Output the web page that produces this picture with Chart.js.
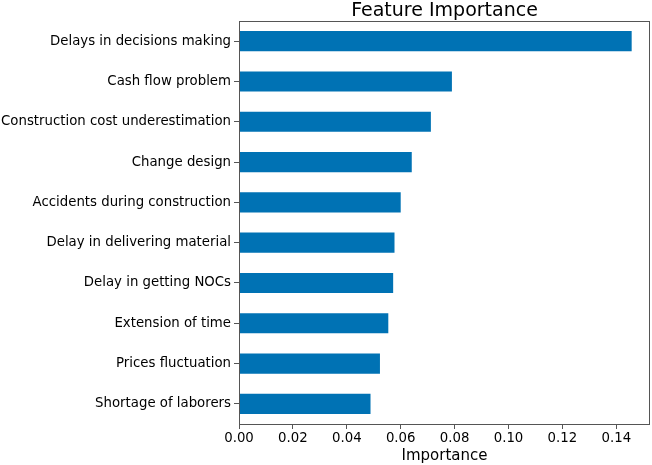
<!DOCTYPE html>
<html>
<head>
<meta charset="utf-8">
<script src="https://cdn.jsdelivr.net/npm/chart.js@4.4.0/dist/chart.umd.min.js"></script>
<style>
html,body{margin:0;padding:0;background:#fff;}
#wrap{width:652px;height:465px;position:relative;}
</style>
</head>
<body>
<div id="wrap"><canvas id="c" width="652" height="465"></canvas></div>
<script>
const categories = [
  "Delays in decisions making",
  "Cash flow problem",
  "Construction cost underestimation",
  "Change design",
  "Accidents during construction",
  "Delay in delivering material",
  "Delay in getting NOCs",
  "Extension of time",
  "Prices fluctuation",
  "Shortage of laborers"
];
const importance = [0.1457, 0.0790, 0.0712, 0.0641, 0.0600, 0.0577, 0.0572, 0.0554, 0.0523, 0.0488];
const xTicks = [0.00, 0.02, 0.04, 0.06, 0.08, 0.10, 0.12, 0.14];

const FONT = "'DejaVu Sans', sans-serif";

const frame = {
  id: 'frame',
  afterDatasetsDraw(chart) {
    const a = chart.chartArea, ctx = chart.ctx;
    ctx.save();
    ctx.strokeStyle = '#555';
    ctx.lineWidth = 1;
    ctx.strokeRect(Math.round(a.left) + 0.5, Math.round(a.top) + 0.5, Math.round(a.right - a.left) - 1, Math.round(a.bottom - a.top));
    ctx.restore();
  }
};

new Chart(document.getElementById('c'), {
  type: 'bar',
  data: {
    labels: categories,
    datasets: [{
      data: importance,
      backgroundColor: '#0072b4',
      borderWidth: 0,
      barPercentage: 0.5,
      categoryPercentage: 1.0
    }]
  },
  plugins: [frame],
  options: {
    indexAxis: 'y',
    responsive: false,
    animation: false,
    devicePixelRatio: 1,
    layout: { padding: { left: 0, right: 2, top: 0, bottom: 0 } },
    plugins: {
      legend: { display: false },
      tooltip: { enabled: false },
      title: { display: false }
    },
    scales: {
      x: {
        type: 'linear',
        min: 0,
        max: 0.1525,
        afterBuildTicks(axis) { axis.ticks = xTicks.map(v => ({ value: v })); },
        afterFit(axis) { axis.height = 41; },
        ticks: {
          includeBounds: false,
          color: '#000',
          font: { family: FONT, size: 13.3 },
          padding: 2,
          callback: v => Number(v).toFixed(2)
        },
        grid: { drawOnChartArea: false, drawTicks: true, tickLength: 5, color: '#555' },
        border: { display: false },
        title: {
          display: true,
          text: 'Importance',
          color: '#000',
          font: { family: FONT, size: 15 },
          padding: { top: 0, bottom: 0 }
        }
      },
      x2: {
        type: 'linear',
        position: 'top',
        axis: 'x',
        min: 0,
        max: 0.1525,
        afterFit(axis) { axis.height = 21; },
        ticks: { display: false },
        grid: { display: false, drawTicks: false },
        border: { display: false },
        title: {
          display: true,
          text: 'Feature Importance',
          color: '#000',
          font: { family: FONT, size: 19 },
          padding: { top: 0, bottom: 2 }
        }
      },
      y: {
        type: 'category',
        offset: true,
        afterFit(axis) { axis.width = 239; },
        ticks: {
          color: '#000',
          font: { family: FONT, size: 13.3 },
          padding: 3
        },
        grid: { drawOnChartArea: false, drawTicks: true, tickLength: 5, color: '#555', offset: false },
        border: { display: false }
      }
    }
  }
});
</script>
</body>
</html>
